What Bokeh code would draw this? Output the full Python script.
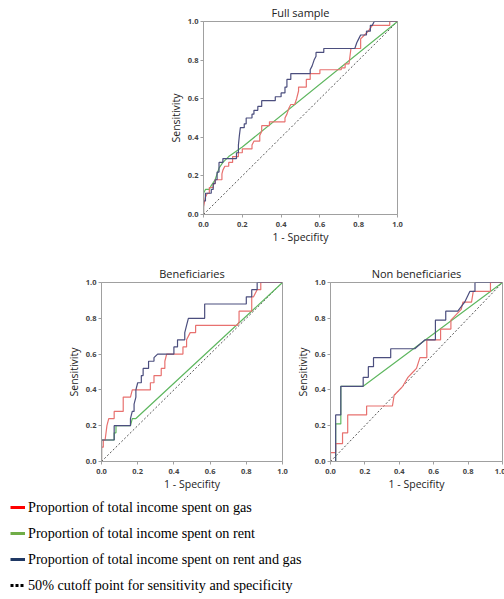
from bokeh.plotting import figure
from bokeh.layouts import column, row
from bokeh.models import Spacer, Legend, LegendItem, Range1d, FixedTicker, PrintfTickFormatter
from bokeh.embed import file_html
from bokeh.resources import INLINE

# ---------------- data ----------------
ticks = [0.0, 0.2, 0.4, 0.6, 0.8, 1.0]

full_gas_x = [0, 0, 0.01, 0.02, 0.03, 0.03, 0.05, 0.05, 0.06, 0.06, 0.095, 0.095, 0.10, 0.11, 0.13, 0.13, 0.15, 0.15, 0.18, 0.18, 0.20, 0.20, 0.25, 0.25, 0.26, 0.29, 0.29, 0.30, 0.30, 0.34, 0.34, 0.42, 0.42, 0.43, 0.44, 0.45, 0.47, 0.48, 0.49, 0.49, 0.53, 0.53, 0.55, 0.55, 0.60, 0.60, 0.71, 0.71, 0.73, 0.73, 0.75, 0.76, 0.81, 0.81, 0.83, 0.85, 0.87, 0.96, 0.96, 1.0]
full_gas_y = [0, 0.04, 0.09, 0.11, 0.11, 0.14, 0.14, 0.16, 0.16, 0.18, 0.18, 0.21, 0.23, 0.25, 0.25, 0.27, 0.27, 0.30, 0.30, 0.32, 0.32, 0.34, 0.34, 0.36, 0.38, 0.38, 0.41, 0.43, 0.46, 0.46, 0.48, 0.48, 0.50, 0.52, 0.55, 0.57, 0.57, 0.60, 0.64, 0.66, 0.66, 0.70, 0.70, 0.73, 0.73, 0.75, 0.75, 0.76, 0.76, 0.78, 0.78, 0.86, 0.86, 0.91, 0.93, 0.95, 0.98, 0.98, 1.0, 1.0]

full_rent_x = [0, 0, 0.01, 0.03, 0.04, 0.06, 0.08, 0.10, 0.13, 0.20, 1.0]
full_rent_y = [0, 0.11, 0.13, 0.13, 0.15, 0.18, 0.24, 0.27, 0.30, 0.35, 1.0]

full_both_x = [0, 0, 0.01, 0.01, 0.04, 0.04, 0.05, 0.05, 0.06, 0.06, 0.07, 0.07, 0.08, 0.08, 0.10, 0.10, 0.17, 0.17, 0.18, 0.18, 0.185, 0.19, 0.21, 0.21, 0.22, 0.22, 0.25, 0.25, 0.26, 0.26, 0.28, 0.28, 0.30, 0.30, 0.37, 0.37, 0.40, 0.40, 0.42, 0.42, 0.43, 0.43, 0.45, 0.45, 0.55, 0.55, 0.56, 0.57, 0.58, 0.58, 0.62, 0.62, 0.78, 0.79, 0.80, 0.81, 0.84, 0.84, 0.86, 0.86, 0.87, 0.88, 1.0]
full_both_y = [0, 0.07, 0.07, 0.11, 0.11, 0.13, 0.13, 0.16, 0.16, 0.18, 0.18, 0.22, 0.22, 0.27, 0.27, 0.29, 0.29, 0.32, 0.32, 0.36, 0.41, 0.45, 0.45, 0.47, 0.47, 0.50, 0.50, 0.52, 0.52, 0.54, 0.54, 0.56, 0.56, 0.59, 0.59, 0.61, 0.61, 0.63, 0.63, 0.66, 0.66, 0.70, 0.70, 0.73, 0.73, 0.75, 0.77, 0.80, 0.82, 0.84, 0.84, 0.86, 0.86, 0.89, 0.91, 0.93, 0.93, 0.95, 0.95, 0.98, 0.98, 1.0, 1.0]

ben_gas_x = [0, 0, 0.01, 0.01, 0.02, 0.03, 0.04, 0.07, 0.07, 0.12, 0.12, 0.16, 0.17, 0.27, 0.27, 0.29, 0.29, 0.33, 0.33, 0.35, 0.35, 0.36, 0.45, 0.45, 0.47, 0.47, 0.49, 0.52, 0.52, 0.75, 0.76, 0.76, 0.83, 0.83, 0.84, 0.86, 0.88, 0.88, 1.0]
ben_gas_y = [0, 0.08, 0.08, 0.12, 0.12, 0.20, 0.24, 0.24, 0.28, 0.28, 0.36, 0.36, 0.40, 0.40, 0.44, 0.44, 0.48, 0.48, 0.52, 0.52, 0.56, 0.60, 0.60, 0.64, 0.64, 0.68, 0.72, 0.72, 0.76, 0.76, 0.78, 0.84, 0.84, 0.92, 0.92, 0.96, 0.96, 1.0, 1.0]

ben_rent_x = [0, 0, 0.07, 0.07, 0.08, 0.08, 0.16, 0.17, 0.19, 1.0]
ben_rent_y = [0, 0.12, 0.12, 0.16, 0.16, 0.20, 0.20, 0.24, 0.24, 1.0]

ben_both_x = [0, 0, 0.07, 0.07, 0.16, 0.16, 0.17, 0.18, 0.18, 0.19, 0.19, 0.20, 0.22, 0.22, 0.23, 0.23, 0.26, 0.26, 0.29, 0.29, 0.31, 0.40, 0.40, 0.42, 0.42, 0.46, 0.46, 0.47, 0.48, 0.57, 0.57, 0.80, 0.80, 0.83, 0.83, 0.86, 0.86, 1.0]
ben_both_y = [0, 0.12, 0.12, 0.20, 0.20, 0.24, 0.28, 0.28, 0.32, 0.36, 0.40, 0.44, 0.44, 0.48, 0.48, 0.52, 0.52, 0.56, 0.56, 0.58, 0.60, 0.60, 0.64, 0.64, 0.68, 0.68, 0.72, 0.76, 0.80, 0.80, 0.88, 0.88, 0.92, 0.92, 0.96, 0.96, 1.0, 1.0]

non_gas_x = [0, 0, 0.03, 0.03, 0.07, 0.07, 0.10, 0.10, 0.21, 0.21, 0.36, 0.37, 0.42, 0.45, 0.48, 0.50, 0.52, 0.56, 0.56, 0.64, 0.64, 0.70, 0.70, 0.76, 0.77, 0.82, 0.83, 0.93, 0.93, 1.0]
non_gas_y = [0, 0.05, 0.05, 0.10, 0.10, 0.16, 0.16, 0.26, 0.26, 0.31, 0.31, 0.37, 0.42, 0.47, 0.50, 0.52, 0.58, 0.58, 0.68, 0.68, 0.74, 0.74, 0.79, 0.85, 0.89, 0.89, 0.95, 0.95, 1.0, 1.0]

non_rent_x = [0, 0.03, 0.03, 0.06, 0.06, 0.19, 1.0]
non_rent_y = [0, 0, 0.21, 0.21, 0.42, 0.42, 1.0]

non_both_x = [0, 0.03, 0.03, 0.06, 0.06, 0.19, 0.19, 0.22, 0.22, 0.25, 0.25, 0.35, 0.35, 0.49, 0.55, 0.61, 0.61, 0.67, 0.67, 0.74, 0.78, 0.81, 0.84, 0.84, 1.0]
non_both_y = [0, 0, 0.26, 0.26, 0.42, 0.42, 0.47, 0.47, 0.53, 0.53, 0.58, 0.58, 0.63, 0.63, 0.68, 0.68, 0.79, 0.79, 0.84, 0.84, 0.89, 0.95, 0.95, 1.0, 1.0]

ref_x = [0, 1]
ref_y = [0, 1]

legend_labels = [
    "Proportion of total income spent on gas",
    "Proportion of total income spent on rent",
    "Proportion of total income spent on rent and gas",
    "50% cutoff point for sensitivity and specificity",
]

RED = "#e8716f"
GREEN = "#5fb760"
BLUE = "#4b4e7e"
GRAY = "#a0a0a0"
FONT = "Open Sans"


def roc(title, curves, width, height, left, right, top, bottom):
    p = figure(width=width, height=height, x_range=Range1d(0, 1), y_range=Range1d(0, 1),
               output_backend="svg", toolbar_location=None,
               min_border_left=left, min_border_right=right,
               min_border_top=top, min_border_bottom=bottom,
               title=title, x_axis_label="1 - Specifity", y_axis_label="Sensitivity")
    p.title.align = "center"
    p.title.text_font = FONT
    p.title.text_font_size = "11px"
    p.title.text_font_style = "normal"
    p.title.text_color = "#222222"
    p.title.standoff = 3
    p.xgrid.visible = False
    p.ygrid.visible = False
    p.outline_line_color = GRAY
    p.outline_line_width = 1
    for ax in (p.xaxis, p.yaxis):
        ax.ticker = FixedTicker(ticks=ticks)
        ax.formatter = PrintfTickFormatter(format="%.1f")
        ax.major_label_text_font = FONT
        ax.major_label_text_font_size = "7.5px"
        ax.major_label_text_font_style = "bold"
        ax.major_label_text_color = "#444444"
        ax.axis_label_text_font = FONT
        ax.axis_label_text_font_size = "10.5px"
        ax.axis_label_text_font_style = "normal"
        ax.axis_label_text_color = "#222222"
        ax.axis_line_color = GRAY
        ax.major_tick_line_color = GRAY
        ax.major_tick_out = 3
        ax.major_tick_in = 0
        ax.minor_tick_line_color = None
    p.xaxis.major_label_standoff = 4
    p.xaxis.axis_label_standoff = 0
    p.yaxis.major_label_standoff = 2
    p.yaxis.axis_label_standoff = 2
    p.line(ref_x, ref_y, line_color="#555555", line_dash="2 2", line_width=1)
    gx, gy, rx, ry, bx, by = curves
    p.line(rx, ry, line_color=GREEN, line_width=1.2)
    p.line(gx, gy, line_color=RED, line_width=1.2)
    p.line(bx, by, line_color=BLUE, line_width=1.2)
    return p


p1 = roc("Full sample", (full_gas_x, full_gas_y, full_rent_x, full_rent_y, full_both_x, full_both_y),
         246, 247, 40, 12, 21, 33)
p2 = roc("Beneficiaries", (ben_gas_x, ben_gas_y, ben_rent_x, ben_rent_y, ben_both_x, ben_both_y),
         229, 250, 36, 10, 31, 34)
p3 = roc("Non beneficiaries", (non_gas_x, non_gas_y, non_rent_x, non_rent_y, non_both_x, non_both_y),
         213, 250, 30, 3, 35, 36)

# legend figure
nan = float("nan")
pl = figure(width=504, height=102, x_range=Range1d(0, 1), y_range=Range1d(0, 1),
            output_backend="svg", toolbar_location=None,
            min_border_left=0, min_border_right=0, min_border_top=0, min_border_bottom=0)
pl.axis.visible = False
pl.xgrid.visible = False
pl.ygrid.visible = False
pl.outline_line_color = None
r1 = pl.line([nan], [nan], line_color="#ff0000", line_width=3)
r2 = pl.line([nan], [nan], line_color="#70ad47", line_width=3)
r3 = pl.line([nan], [nan], line_color="#1f3864", line_width=3)
r4 = pl.line([nan], [nan], line_color="#000000", line_width=3, line_dash="3 2")
leg = Legend(items=[LegendItem(label=legend_labels[0], renderers=[r1]),
                    LegendItem(label=legend_labels[1], renderers=[r2]),
                    LegendItem(label=legend_labels[2], renderers=[r3]),
                    LegendItem(label=legend_labels[3], renderers=[r4])],
             location=(10, 4), orientation="vertical",
             glyph_width=15, glyph_height=20, label_height=20, label_standoff=3,
             spacing=6, padding=0, margin=0,
             label_text_font="Liberation Serif", label_text_font_size="14.2px",
             label_text_color="#000000",
             border_line_color=None, background_fill_alpha=0)
pl.add_layout(leg)

layout = column(row(Spacer(width=163, height=247), p1),
                row(Spacer(width=63, height=250), p2, p3),
                pl)

open("out.html", "w").write(file_html(layout, INLINE))
